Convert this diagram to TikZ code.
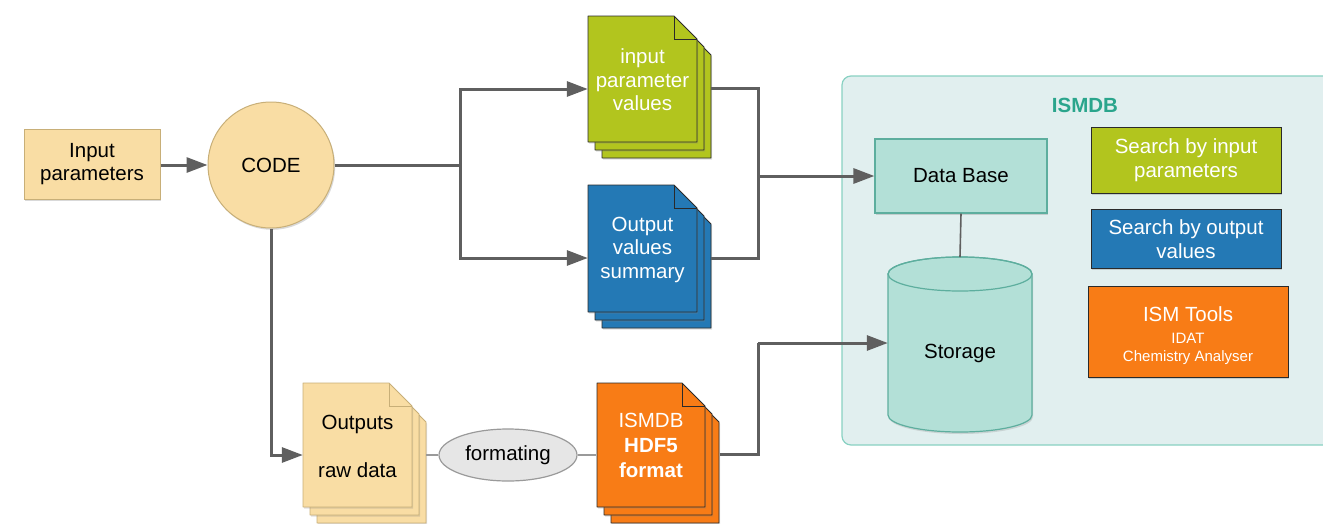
\documentclass[tikz,border=0pt]{standalone}
\usepackage{fontspec}
\setmainfont{Liberation Sans}
\usetikzlibrary{arrows.meta,calc,shadows,shapes.geometric}
\definecolor{tanfill}{HTML}{F9DDA4}
\definecolor{tandraw}{HTML}{C8AF78}
\definecolor{gfill}{HTML}{B2C51E}
\definecolor{bfill}{HTML}{2479B5}
\definecolor{ofill}{HTML}{F87C16}
\definecolor{agray}{HTML}{5F5F5F}
\definecolor{ctfill}{HTML}{E1EFEF}
\definecolor{ctdraw}{HTML}{88D1C2}
\definecolor{dbfill}{HTML}{B3E0D7}
\definecolor{dbdraw}{HTML}{5DAE9E}
\definecolor{ttl}{HTML}{2AA58C}
\definecolor{elfill}{HTML}{E6E6E6}
\definecolor{eldraw}{HTML}{9A9A9A}
\definecolor{dk}{HTML}{2A2A2A}
\newcommand\docstack[6]{%
  \foreach \o/\p in {14/16, 7/8, 0/0}{%
    \filldraw[fill=#5, draw=#6, line width=0.9pt, line join=round,
      drop shadow={shadow xshift=1pt, shadow yshift=-1.5pt, opacity=0.25}]
      (#1+\o,#2+\p) -- (#1+\o+#3-23,#2+\p) -- (#1+\o+#3,#2+\p+23)
      -- (#1+\o+#3,#2+\p+#4) -- (#1+\o,#2+\p+#4) -- cycle;}
  \draw[draw=#6, line width=0.8pt] (#1+#3-23,#2) -- (#1+#3-23,#2+23) -- (#1+#3,#2+23);}
\tikzset{
  txt/.style={font=\fontsize{20.5}{23.5}\selectfont, align=center, inner sep=0pt},
  doctext/.style={txt, draw=none, minimum width=109, minimum height=125},
  shad/.style={drop shadow={shadow xshift=1.2pt, shadow yshift=-1.8pt, opacity=0.3}},
  arr/.style={draw=agray, line width=3pt, -{Triangle[length=21pt,width=15pt]}},
  ln/.style={draw=agray, line width=3pt},
  thinln/.style={draw=eldraw, line width=2pt},
  sbox/.style={txt, draw=dk, line width=1pt, text=white, shad},
}
\begin{document}
\begin{tikzpicture}[x=1pt,y=-1pt]
\useasboundingbox (0,0) rectangle (1323,523);

% ISMDB container
\draw[fill=ctfill, draw=ctdraw, line width=1.2pt, rounded corners=9pt] (842,76) rectangle (1345,445);
\node[txt, font=\fontsize{20.5}{23.5}\selectfont\bfseries, text=ttl] (ttl) at (1085,105) {ISMDB};

% Input parameters and CODE
\node[txt, fill=tanfill, draw=tandraw, line width=1pt, minimum width=136, minimum height=70, shad] (inp) at (92,164) {Input\\parameters};
\node[txt, circle, fill=tanfill, draw=tandraw, line width=1pt, minimum size=126, shad] (code) at (271,165) {CODE};

% documents
\docstack{588}{16}{109}{126}{gfill}{dk}
\node[doctext, text=white] (gdoc) at (642.5,80) {input\\parameter\\values};
\docstack{588}{185}{109}{127}{bfill}{dk}
\node[doctext, text=white] (bdoc) at (642.5,249.5) {Output\\values\\summary};
\docstack{303}{383}{109}{124}{tanfill}{tandraw}
\node[doctext, font=\fontsize{20.5}{48}\selectfont] (odoc) at (357.5,446) {Outputs\\raw data};
\docstack{597}{383}{108}{124}{ofill}{dk}
\node[doctext, text=white, font=\fontsize{20.5}{25}\selectfont] (hdoc) at (651,445) {ISMDB\\\textbf{HDF5}\\\textbf{format}};

% formating ellipse
\node[txt, ellipse, fill=elfill, draw=eldraw, line width=1.2pt, minimum width=138, minimum height=52, inner sep=0pt] (fmt) at (508,455) {formating};

% Data Base
\node[txt, fill=dbfill, draw=dbdraw, line width=1.2pt, minimum width=172, minimum height=74, shad] (db) at (961,176) {Data Base};

% Storage cylinder
\filldraw[fill=dbfill, draw=dbdraw, line width=1.2pt, drop shadow={shadow xshift=1pt, shadow yshift=-2pt, opacity=0.25}]
  (888,274) -- (888,415) arc[start angle=180, end angle=0, x radius=72, y radius=17]
  -- (1032,274) arc[start angle=0, end angle=-180, x radius=72, y radius=17] -- cycle;
\draw[dbdraw, line width=1.2pt] (960,274) ellipse [x radius=72, y radius=17];
\coordinate (cyltop) at (960,257);
\node[txt, minimum width=144] (storage) at (960,353) {Storage};

% search boxes
\node[sbox, fill=gfill, minimum width=190, minimum height=66] (sin) at (1186,160) {Search by input\\parameters};
\node[sbox, fill=bfill, minimum width=190, minimum height=59] (sout) at (1186,239) {Search by output\\values};
\node[sbox, fill=ofill, minimum width=200, minimum height=91] (tools) at (1188,331.5) {};
\node[txt, text=white] (toolstxt) at (1188,336)
  {ISM Tools\\[-2pt]{\fontsize{15}{19}\selectfont IDAT}\\[-5pt]{\fontsize{15}{19}\selectfont Chemistry Analyser}};

% connectors
\draw[arr] (inp.east |- code) -- (code);
\coordinate (j1) at (460,165);
\draw[ln] (code.east) -- (j1);
\draw[arr] (j1) |- ($(gdoc.west)+(0,9)$);
\draw[arr] (j1) |- ($(bdoc.west)+(0,8.5)$);
\coordinate (j2) at (758,176);
\draw[ln] ($(gdoc.east)+(14,8)$) -| (j2);
\draw[ln] ($(bdoc.east)+(14,8.5)$) -| (j2);
\draw[arr] (j2) -- (db.west);
\draw[arr] (code.south) |- ($(odoc.west)+(0,9)$);
\draw[thinln] ($(odoc.east)+(14,9)$) -- (fmt.west);
\draw[thinln] (fmt.east) -- ($(hdoc.west)+(0,10)$);
\coordinate (j3) at (758,343);
\draw[ln] ($(hdoc.east)+(14,9)$) -| (j3);
\draw[arr] (j3) -- ($(storage.west)+(0,-10)$);
\draw[agray, line width=1.6pt] (db.south) -- (cyltop);
\end{tikzpicture}
\end{document}
